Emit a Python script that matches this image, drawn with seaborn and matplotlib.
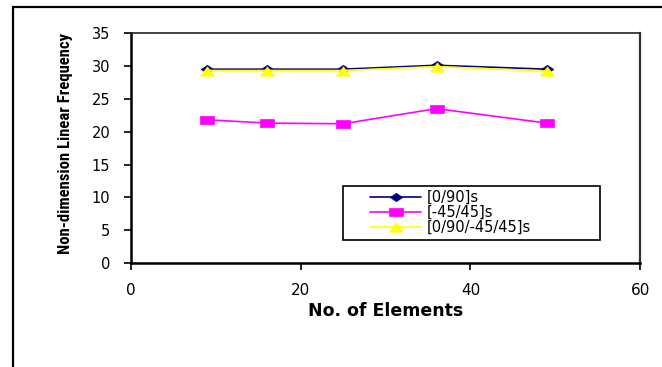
import pandas as pd
import seaborn as sns
import matplotlib.pyplot as plt
from matplotlib import font_manager
from matplotlib.patches import Rectangle
from matplotlib.path import Path

# data
elements = [9, 16, 25, 36, 49]
freq_0_90 = [29.5, 29.5, 29.5, 30.1, 29.5]
freq_m45_45 = [21.8, 21.3, 21.2, 23.5, 21.3]
freq_0_90_m45_45 = [29.3, 29.3, 29.3, 29.9, 29.2]
labels = ["[0/90]s", "[-45/45]s", "[0/90/-45/45]s"]

colors = ["#000080", "#FF00FF", "#FFFF00"]

# the reference is stretched sideways, so the markers are wide too
diamond = Path([(-1.5, 0), (0, 1), (1.5, 0), (0, -1), (-1.5, 0)])
square = Path([(-1.5, -1), (1.5, -1), (1.5, 1), (-1.5, 1), (-1.5, -1)])
triangle = Path([(-1.5, -1), (1.5, -1), (0, 1), (-1.5, -1)])
markers = [diamond, square, triangle]
msizes = [9, 9.5, 10]


def pick_font(names):
    """Return the first family in names that is installed."""
    for name in names:
        try:
            font_manager.findfont(name, fallback_to_default=False)
            return name
        except ValueError:
            continue
    return "DejaVu Sans"


def main():
    sns.set_style("white")
    plt.rcParams["font.family"] = ["DejaVu Sans"]
    plt.rcParams["text.color"] = "black"
    plt.rcParams["axes.labelcolor"] = "black"
    plt.rcParams["xtick.labelcolor"] = "black"
    plt.rcParams["ytick.labelcolor"] = "black"
    narrow = pick_font(["Liberation Sans Narrow", "DejaVu Sans Condensed",
                        "Roboto Condensed", "Open Sans Condensed"])

    df = pd.DataFrame({
        "elements": elements * 3,
        "freq": freq_0_90 + freq_m45_45 + freq_0_90_m45_45,
        "layup": [labels[0]] * 5 + [labels[1]] * 5 + [labels[2]] * 5,
    })

    fig = plt.figure(figsize=(6.62, 3.67), dpi=100)
    ax = fig.add_axes([0.198, 0.283, 0.769, 0.627])

    for lab, c, m, ms in zip(labels, colors, markers, msizes):
        sub = df[df["layup"] == lab]
        sns.lineplot(data=sub, x="elements", y="freq", ax=ax, color=c,
                     marker=m, markersize=ms, markeredgecolor=c,
                     markeredgewidth=0.5, linewidth=1.2, label=lab)

    ax.set_xlim(0, 60)
    ax.set_ylim(0, 35)
    ax.set_xticks([0, 20, 40, 60])
    ax.set_yticks(range(0, 36, 5))
    ax.tick_params(axis="both", direction="out", length=5, width=1.2,
                   labelsize=10.5, color="black", left=True, bottom=True)
    ax.tick_params(axis="x", pad=9, labelsize=11)
    ax.tick_params(axis="y", pad=10)
    for side in ["left", "bottom"]:
        ax.spines[side].set_linewidth(1.8)
        ax.spines[side].set_color("black")
    ax.spines["top"].set_linewidth(1.2)
    ax.spines["top"].set_color("#222222")
    ax.spines["right"].set_linewidth(1.6)
    ax.spines["right"].set_color("#333333")

    ax.set_xlabel("No. of Elements", fontsize=12.5, fontweight="bold")
    ax.xaxis.label.set_va("top")
    ax.xaxis.set_label_coords(0.5, -0.17)
    ysize = 10 if narrow == "DejaVu Sans" else 12
    ax.set_ylabel("Non-dimension Linear Frequency", fontsize=ysize,
                  fontweight="bold", family=[narrow, "DejaVu Sans"])
    ax.yaxis.set_label_coords(-0.114, 0.52)

    # legend box drawn separately so the entries can sit inset from its left edge
    ax.legend(loc="upper left", bbox_to_anchor=(0.47, 0.317),
              fontsize=10.5, frameon=False, borderpad=0,
              labelspacing=0.0, handlelength=3.5,
              handletextpad=0.4, borderaxespad=0, labelcolor="black")
    ax.add_patch(Rectangle((0.4165, 0.1), 0.505, 0.235, transform=ax.transAxes,
                           fill=False, edgecolor="black", linewidth=1.2,
                           zorder=5))

    # outer chart frame, cut off at right and bottom like the reference
    fig.patches.append(Rectangle((12.5 / 662, -0.1), 1.0, 1 - 7 / 367 + 0.1,
                                 transform=fig.transFigure, fill=False,
                                 edgecolor="black", linewidth=1.6))

    fig.savefig("out.png", dpi=100)


if __name__ == "__main__":
    main()
